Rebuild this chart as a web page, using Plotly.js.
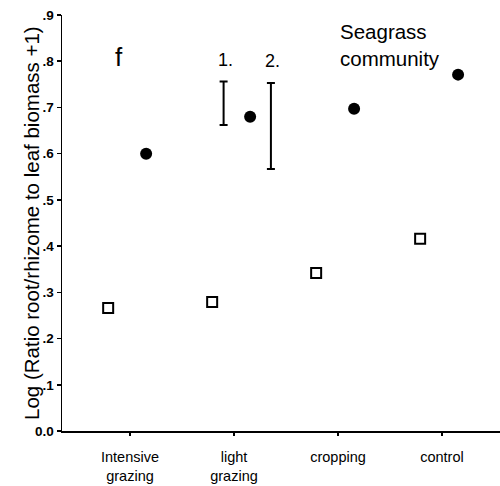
<!DOCTYPE html>
<html>
<head>
<meta charset="utf-8">
<script src="https://cdn.plot.ly/plotly-3.0.1.min.js"></script>
<style>html,body{margin:0;padding:0;background:#fff;}#chart{width:500px;height:486px;}</style>
</head>
<body>
<div id="chart"></div>
<script>
var categories = ["Intensive<br>grazing", "light<br>grazing", "cropping", "control"];
var openSquares = [0.266, 0.279, 0.342, 0.416];
var filledCircles = [0.600, 0.680, 0.697, 0.771];
var errorCenters = [0.709, 0.660];
var errorHalf = [0.047, 0.093];
var errorLabels = ["1.", "2."];
var yTickVals = [0, 0.1, 0.2, 0.3, 0.4, 0.5, 0.6, 0.7, 0.8, 0.9];
var yTickText = ["0.0", ".1", ".2", ".3", ".4", ".5", ".6", ".7", ".8", ".9"];
var yTitle = "Log (Ratio root/rhizome to leaf biomass +1)";

var idx = categories.map(function (c, i) { return i; });
var sqOffset = -0.21, ciOffset = 0.155;
var errorX = [0.9, 1.355];
var fam = "Liberation Sans, Arial";

var traces = [
  {
    x: idx.map(function (i) { return i + sqOffset; }), y: openSquares,
    type: "scatter", mode: "markers",
    marker: { symbol: "square-open", size: 10, color: "#000", line: { width: 2, color: "#000" } },
    showlegend: false, hoverinfo: "skip"
  },
  {
    x: idx.map(function (i) { return i + ciOffset; }), y: filledCircles,
    type: "scatter", mode: "markers",
    marker: { symbol: "circle", size: 12, color: "#000" },
    showlegend: false, hoverinfo: "skip"
  },
  {
    x: errorX, y: errorCenters,
    type: "scatter", mode: "markers",
    marker: { size: 1, color: "rgba(0,0,0,0)" },
    error_y: { type: "data", array: errorHalf, visible: true, color: "#000", thickness: 2, width: 4 },
    showlegend: false, hoverinfo: "skip"
  }
];

var annotations = [
  { x: 0, y: 0.81, xref: "x", yref: "y", text: "f", showarrow: false, font: { family: fam, size: 26, color: "#000" }, xanchor: "center", yanchor: "middle", xshift: -11 },
  { x: 2.0, y: 0.835, xref: "x", yref: "y", text: "Seagrass<br>community", showarrow: false, align: "left", xanchor: "left", yanchor: "middle", font: { family: fam, size: 20.5, color: "#000" } },
  { x: -0.0708, y: 0.5, xref: "paper", yref: "paper", text: yTitle, textangle: -90, showarrow: false, xanchor: "center", yanchor: "middle", font: { family: fam, size: 20.5, color: "#000" } }
];
errorLabels.forEach(function (t, k) {
  annotations.push({ x: errorX[k], y: errorCenters[k] + errorHalf[k], xref: "x", yref: "y", text: t, showarrow: false, xanchor: "center", yanchor: "bottom", yshift: 10, xshift: 2, font: { family: fam, size: 18, color: "#000" } });
});

var layout = {
  width: 500, height: 486,
  margin: { l: 62, r: 0, t: 15, b: 55 },
  paper_bgcolor: "#fff", plot_bgcolor: "#fff",
  font: { family: fam, color: "#000" },
  xaxis: {
    range: [-0.654, 3.558], tickvals: idx, ticktext: categories,
    showgrid: false, zeroline: false, showline: true, linecolor: "#000", linewidth: 1.5,
    ticks: "outside", ticklen: 3, tickwidth: 2, tickcolor: "#000",
    tickfont: { size: 14.5, color: "#000" }, ticklabelstandoff: 9
  },
  yaxis: {
    range: [0, 0.9], tickvals: yTickVals, ticktext: yTickText,
    showgrid: false, zeroline: false, showline: true, linecolor: "#000", linewidth: 1.5,
    ticks: "outside", ticklen: 4, tickwidth: 1.5, tickcolor: "#000",
    tickfont: { size: 13.5, color: "#000", weight: "bold" }
  },
  annotations: annotations
};

Plotly.newPlot("chart", traces, layout, { staticPlot: true, displayModeBar: false });
</script>
</body>
</html>
